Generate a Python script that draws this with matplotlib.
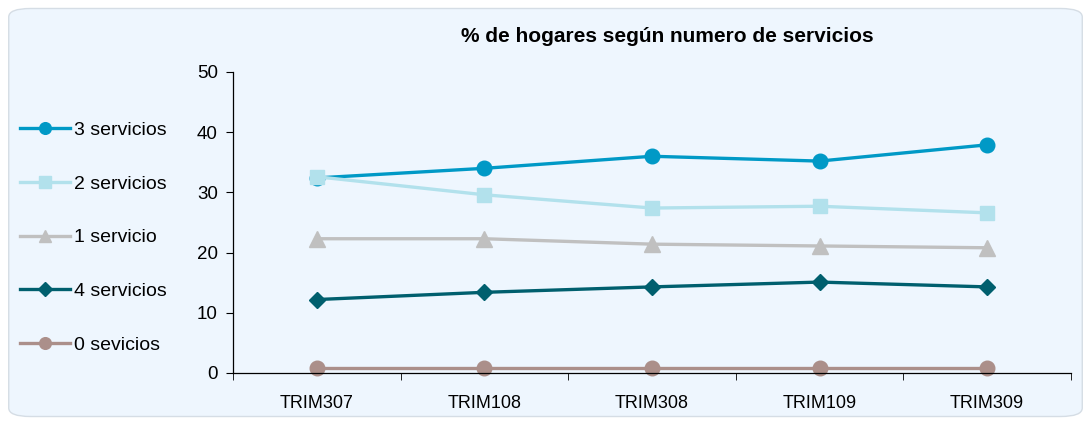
import matplotlib.pyplot as plt
from matplotlib.patches import FancyBboxPatch
import numpy as np

plt.rcParams['font.family'] = ['Liberation Sans', 'DejaVu Sans']

periods = ['TRIM307', 'TRIM108', 'TRIM308', 'TRIM109', 'TRIM309']
labels = ['3 servicios', '2 servicios', '1 servicio', '4 servicios', '0 sevicios']
serv3 = [32.4, 34.0, 36.0, 35.2, 37.9]
serv2 = [32.6, 29.6, 27.4, 27.7, 26.6]
serv1 = [22.3, 22.3, 21.4, 21.1, 20.8]
serv4 = [12.2, 13.4, 14.3, 15.1, 14.3]
serv0 = [0.8, 0.8, 0.8, 0.8, 0.8]

colors = ['#0099c6', '#b2e1ec', '#c0c0c0', '#005f6e', '#ab8f8a']
markers = ['o', 's', '^', 'D', 'o']
sizes = [10.5, 10.5, 11.5, 8.5, 10.5]

fig = plt.figure(figsize=(10.91, 4.25), dpi=100)
bg = '#eef6fe'
fig.patches.append(FancyBboxPatch((0.008, 0.02), 0.984, 0.96,
                                  boxstyle='round,pad=0,rounding_size=0.02',
                                  transform=fig.transFigure, facecolor=bg,
                                  edgecolor='#d5dde5', linewidth=1, zorder=-1))

ax = fig.add_axes([0.2136, 0.1224, 0.768, 0.7082])
ax.set_facecolor('none')

x = np.arange(len(periods))
handles = []
for vals, lab, c, m, s in zip([serv3, serv2, serv1, serv4, serv0], labels, colors, markers, sizes):
    h, = ax.plot(x, vals, color=c, marker=m, markersize=s, linewidth=2.4, label=lab,
                 markeredgecolor=c, clip_on=False)
    handles.append(h)

ax.set_xlim(-0.5, 4.5)
ax.set_ylim(0, 50)
ax.set_yticks(range(0, 51, 10))
ax.set_xticks(x)
ax.set_xticklabels(periods)
ax.set_xticks(np.arange(-0.5, 5, 1), minor=True)
ax.tick_params(axis='x', which='major', length=0, pad=16, labelsize=13)
ax.tick_params(axis='x', which='minor', length=5, direction='out')
ax.tick_params(axis='y', length=5, direction='out', labelsize=13.5, pad=6)
for sp in ['top', 'right']:
    ax.spines[sp].set_visible(False)
for sp in ['left', 'bottom']:
    ax.spines[sp].set_linewidth(0.9)

fig.text(0.612, 0.913, '% de hogares según numero de servicios', ha='center', va='center',
         fontsize=15, fontweight='bold')

fig.legend(handles=handles, loc='upper left', bbox_to_anchor=(0.002, 0.755),
           frameon=False, fontsize=14, labelspacing=1.85, handlelength=2.6,
           handletextpad=0.2, markerscale=0.8)

fig.savefig('out.png', dpi=100)
